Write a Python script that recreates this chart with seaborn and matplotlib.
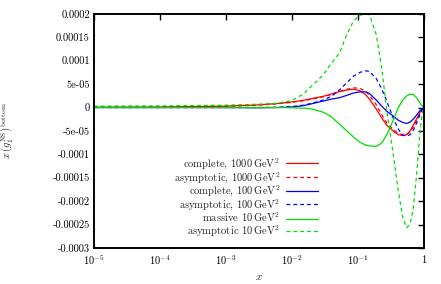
import matplotlib
matplotlib.use("Agg")
import matplotlib.pyplot as plt
import seaborn as sns
import numpy as np

# x grid shared by all curves
x_vals = [1e-5, 1e-4, 1e-3, 0.003, 0.006, 0.01, 0.015, 0.02, 0.03, 0.04,
          0.053, 0.068, 0.086, 0.107, 0.13, 0.15, 0.19, 0.23, 0.275, 0.35,
          0.41, 0.48, 0.55, 0.62, 0.69, 0.78, 0.87, 0.94, 1.0]

# curve values in units of 1e-5
complete_1000 = [0.05, 0.1, 0.3, 0.55, 0.85, 1.2, 1.55, 1.9, 2.4, 2.9,
                 3.4, 3.75, 3.9, 3.6, 2.8, 1.8, -0.3, -2.2, -3.8, -5.1,
                 -5.8, -6.0, -5.8, -5.0, -3.8, -2.4, -1.1, -0.4, 0.0]
asympt_1000 = [0.05, 0.1, 0.3, 0.5, 0.8, 1.1, 1.45, 1.8, 2.3, 2.8,
               3.4, 3.9, 4.2, 4.1, 3.5, 2.6, 0.6, -1.5, -3.3, -4.8,
               -5.5, -5.8, -5.8, -5.2, -4.2, -2.7, -1.3, -0.5, 0.0]
complete_100 = [0.0, 0.0, 0.0, -0.05, 0.0, 0.1, 0.4, 0.8, 1.4, 1.8,
                2.1, 2.6, 3.1, 3.35, 3.35, 3.0, 1.6, 0.3, -0.8, -1.9,
                -2.7, -3.2, -3.4, -3.1, -2.5, -1.6, -0.7, -0.25, 0.0]
asympt_100 = [0.0, 0.0, 0.0, 0.0, 0.05, 0.2, 0.5, 0.9, 1.6, 2.4,
              3.8, 5.3, 6.7, 7.5, 7.85, 7.7, 6.2, 4.0, 1.3, -2.5,
              -4.6, -5.9, -6.1, -5.8, -4.9, -3.3, -1.6, -0.6, 0.0]
massive_10 = [0.0, 0.0, 0.0, 0.0, 0.0, -0.05, -0.15, -0.3, -1.0, -2.0,
              -3.6, -5.0, -6.3, -7.4, -8.0, -8.2, -8.3, -7.6, -5.8, -2.5,
              0.0, 1.6, 2.5, 2.85, 2.8, 2.1, 1.0, 0.4, 0.0]
asympt_10 = [0.3, 0.35, 0.5, 0.7, 0.9, 1.5, 2.9, 4.6, 7.0, 9.5,
             11.7, 15.6, 18.5, 19.7, 20.0, 19.8, 15.6, 8.5, -0.7, -10.7,
             -17.8, -23.5, -25.7, -24.8, -21.8, -14.2, -5.7, -1.5, 0.0]
UNIT = 1e-5

labels = [
    r"complete, $1000\,\mathrm{GeV}^2$",
    r"asymptotic, $1000\,\mathrm{GeV}^2$",
    r"complete, $100\,\mathrm{GeV}^2$",
    r"asymptotic, $100\,\mathrm{GeV}^2$",
    r"massive $10\,\mathrm{GeV}^2$",
    r"asymptotic $10\,\mathrm{GeV}^2$",
]
series = [complete_1000, asympt_1000, complete_100, asympt_100, massive_10, asympt_10]
colors = ["#ff0000", "#ff0000", "#0000ff", "#0000ff", "#00dd00", "#00dd00"]
styles = ["-", "--", "-", "--", "-", "--"]

ytick_vals = [0.0002, 0.00015, 0.0001, 5e-05, 0, -5e-05, -0.0001, -0.00015,
              -0.0002, -0.00025, -0.0003]
ytick_labels = ["0.0002", "0.00015", "0.0001", "5e-05", "0", "-5e-05", "-0.0001",
                "-0.00015", "-0.0002", "-0.00025", "-0.0003"]
xtick_vals = [1e-5, 1e-4, 1e-3, 1e-2, 1e-1, 1]
xtick_labels = [r"$10^{-5}$", r"$10^{-4}$", r"$10^{-3}$", r"$10^{-2}$", r"$10^{-1}$", r"$1$"]

sns.set_style("white")
plt.rcParams["font.family"] = "cmr10"
plt.rcParams["mathtext.fontset"] = "cm"
plt.rcParams["axes.unicode_minus"] = False
plt.rcParams["axes.formatter.use_mathtext"] = True

fig = plt.figure(figsize=(4.41, 2.84), dpi=100)
ax = fig.add_axes([0.213, 0.127, 0.748, 0.824])

xs = np.array(x_vals)
for vals, lab, col, ls in zip(series, labels, colors, styles):
    sns.lineplot(x=xs, y=np.array(vals) * UNIT, ax=ax, color=col, linewidth=0.9,
                 label=lab, dashes=False)
    ax.lines[-1].set_linestyle(ls)
    if ls == "--":
        ax.lines[-1].set_dashes((3, 2.5))

ax.set_xscale("log")
ax.set_xlim(1e-5, 1)
ax.set_ylim(-0.0003, 0.0002)
ax.set_xticks(xtick_vals)
ax.set_xticklabels(xtick_labels)
ax.minorticks_off()
ax.set_yticks(ytick_vals)
ax.set_yticklabels(ytick_labels)
ax.tick_params(direction="in", length=4, width=1, labelsize=7.5, pad=3,
               top=True, right=True, colors="black")
ax.tick_params(axis="x", pad=4)
for sp in ax.spines.values():
    sp.set_linewidth(1.4)
    sp.set_color("black")

ax.set_xlabel(r"$x$", fontsize=8)
ax.set_ylabel(r"$x\,\left(g_1^{\rm NS}\right)^{\rm bottom}$", fontsize=7.5)
ax.xaxis.set_label_coords(0.5, -0.105)
ax.yaxis.set_label_coords(-0.235, 0.5)

ax.legend(loc="lower right", bbox_to_anchor=(0.679, 0.04), frameon=False,
          markerfirst=False, borderpad=0, borderaxespad=0, handlelength=3.0,
          handletextpad=0.6, labelspacing=-0.13, fontsize=7.6)

fig.savefig("out.png", dpi=100)
